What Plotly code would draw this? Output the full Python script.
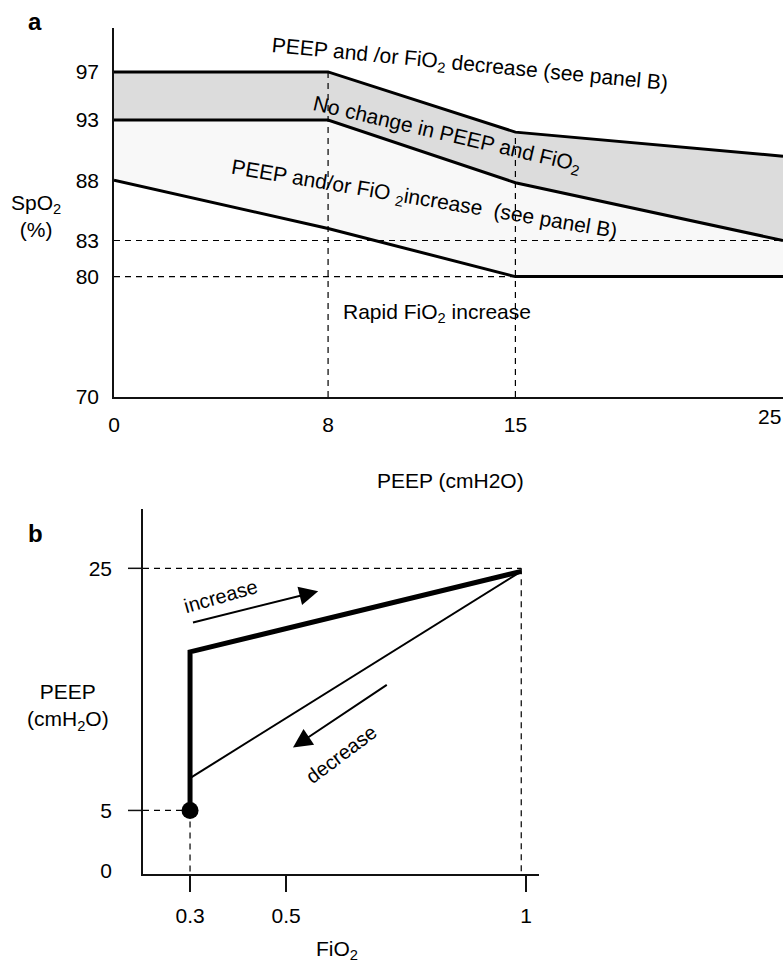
import plotly.graph_objects as go

# ---------------- Data ----------------
# Panel a: SpO2 target bands vs PEEP
peep_a = [0, 8, 15, 25]
spo2_upper = [97, 97, 92, 90]
spo2_middle = [93, 93, 87.8, 83]
spo2_lower = [88, 84, 80, 80]
spo2_ticks = [70, 80, 83, 88, 93, 97]
peep_ticks_a = [0, 8, 15]
peep_last_tick = 25

# Panel b: PEEP / FiO2 pathway
fio2_increase = [0.3, 0.3, 0.99]
peep_increase = [5, 18.1, 24.75]
fio2_decrease = [0.99, 0.3]
peep_decrease = [24.75, 7.67]
start_fio2 = [0.3]
start_peep = [5]
fio2_ticks = [0.3, 0.5, 1]
fio2_ticktext = ["0.3", "0.5", "1"]
peep_ticks_b = [0, 5, 25]

FONT = "Liberation Sans, Arial, Helvetica, sans-serif"
W, H = 784, 963

fig = go.Figure()

# ---- Panel a fills ----
fig.add_trace(go.Scatter(x=peep_a, y=spo2_lower, mode="lines", line=dict(width=0),
                         xaxis="x", yaxis="y", hoverinfo="skip"))
fig.add_trace(go.Scatter(x=peep_a, y=spo2_middle, mode="lines", line=dict(width=0),
                         fill="tonexty", fillcolor="#f8f8f8", xaxis="x", yaxis="y", hoverinfo="skip"))
fig.add_trace(go.Scatter(x=peep_a, y=spo2_upper, mode="lines", line=dict(width=0),
                         fill="tonexty", fillcolor="#dcdcdc", xaxis="x", yaxis="y", hoverinfo="skip"))

# ---- Panel a dashed guides ----
dash_a = dict(color="black", width=1.2, dash="6px,5px")
fig.add_trace(go.Scatter(x=[peep_a[0], peep_a[-1]], y=[spo2_middle[-1]] * 2, mode="lines",
                         line=dash_a, xaxis="x", yaxis="y"))
fig.add_trace(go.Scatter(x=[peep_a[0], peep_a[2]], y=[spo2_lower[2]] * 2, mode="lines",
                         line=dash_a, xaxis="x", yaxis="y"))
fig.add_trace(go.Scatter(x=[peep_a[1]] * 2, y=[spo2_ticks[0], spo2_upper[1]], mode="lines",
                         line=dash_a, xaxis="x", yaxis="y"))
fig.add_trace(go.Scatter(x=[peep_a[2]] * 2, y=[spo2_ticks[0], spo2_upper[2]], mode="lines",
                         line=dash_a, xaxis="x", yaxis="y"))

# ---- Panel a solid lines ----
for ys in (spo2_upper, spo2_middle, spo2_lower):
    fig.add_trace(go.Scatter(x=peep_a, y=ys, mode="lines", line=dict(color="black", width=3),
                             xaxis="x", yaxis="y"))

# ---- Panel b dashed guides ----
dash_b = dict(color="black", width=1.2, dash="6px,5px")
xb_min, xb_max = 0.202, 1.027
yb_min, yb_max = -0.25, 29.9
fig.add_trace(go.Scatter(x=[xb_min, fio2_increase[-1]], y=[peep_ticks_b[2]] * 2, mode="lines",
                         line=dash_b, xaxis="x2", yaxis="y2"))
fig.add_trace(go.Scatter(x=[fio2_increase[-1]] * 2, y=[peep_ticks_b[2], yb_min], mode="lines",
                         line=dash_b, xaxis="x2", yaxis="y2"))
fig.add_trace(go.Scatter(x=[xb_min, start_fio2[0]], y=[start_peep[0]] * 2, mode="lines",
                         line=dash_b, xaxis="x2", yaxis="y2"))
fig.add_trace(go.Scatter(x=[start_fio2[0]] * 2, y=[start_peep[0], yb_min], mode="lines",
                         line=dash_b, xaxis="x2", yaxis="y2"))

# ---- Panel b pathway ----
fig.add_trace(go.Scatter(x=fio2_decrease, y=peep_decrease, mode="lines",
                         line=dict(color="black", width=2), xaxis="x2", yaxis="y2"))
fig.add_trace(go.Scatter(x=fio2_increase, y=peep_increase, mode="lines",
                         line=dict(color="black", width=5), xaxis="x2", yaxis="y2"))
fig.add_trace(go.Scatter(x=start_fio2, y=start_peep, mode="markers",
                         marker=dict(color="black", size=17), xaxis="x2", yaxis="y2"))

tickfont = dict(family=FONT, size=21, color="black")
axis_common = dict(showline=True, linecolor="#111", linewidth=1.5, showgrid=False,
                   zeroline=False, tickfont=tickfont, automargin=False)

fig.update_layout(
    width=W, height=H,
    margin=dict(l=0, r=0, t=0, b=0),
    paper_bgcolor="white", plot_bgcolor="white",
    showlegend=False,
    font=dict(family=FONT, size=21, color="black"),
    xaxis=dict(domain=[114 / W, 783 / W], range=[0, 25], anchor="y",
               tickvals=peep_ticks_a, ticks="", ticklabelstandoff=8, **axis_common),
    yaxis=dict(domain=[1 - 397 / H, 1 - 28 / H], range=[70, 100.65], anchor="x",
               tickvals=spo2_ticks, ticks="", ticklabelstandoff=9, **axis_common),
    xaxis2=dict(domain=[143 / W, 539 / W], range=[xb_min, xb_max], anchor="y2",
                tickvals=fio2_ticks, ticktext=fio2_ticktext, ticks="outside", ticklen=16,
                tickwidth=1.5, tickcolor="#111", ticklabelstandoff=6, **axis_common),
    yaxis2=dict(domain=[1 - 874 / H, 1 - 509 / H], range=[yb_min, yb_max], anchor="x2",
                tickvals=peep_ticks_b, ticks="", ticklabelstandoff=25, **axis_common),
)

# y tick stubs for panel b at 5 and 25
for v in peep_ticks_b[1:]:
    fig.add_shape(type="line", xref="x2 domain", yref="y2", x0=-15 / 396, x1=0, y0=v, y1=v,
                  line=dict(color="#111", width=1.5))

ann_font = dict(family=FONT, size=21, color="black")
annotations = [
    # panel letters
    dict(text="<b>a</b>", x=35 / W, y=1 - 22 / H, xref="paper", yref="paper",
         showarrow=False, font=dict(family=FONT, size=24), xanchor="center", yanchor="middle"),
    dict(text="<b>b</b>", x=35 / W, y=1 - 533 / H, xref="paper", yref="paper",
         showarrow=False, font=dict(family=FONT, size=24), xanchor="center", yanchor="middle"),
    # axis titles
    dict(text="SpO<sub>2</sub><br>(%)", x=36 / W, y=1 - 216 / H, xref="paper", yref="paper",
         showarrow=False, font=ann_font, xanchor="center", yanchor="middle"),
    dict(text="PEEP (cmH2O)", x=450 / W, y=1 - 480 / H, xref="paper", yref="paper",
         showarrow=False, font=ann_font, xanchor="center", yanchor="middle"),
    dict(text="PEEP<br>(cmH<sub>2</sub>O)", x=68 / W, y=1 - 707 / H, xref="paper", yref="paper",
         showarrow=False, font=ann_font, xanchor="center", yanchor="middle"),
    dict(text="FiO<sub>2</sub>", x=337 / W, y=1 - 950 / H, xref="paper", yref="paper",
         showarrow=False, font=ann_font, xanchor="center", yanchor="middle"),
    # last x tick label of panel a (kept inside the page)
    dict(text=str(peep_last_tick), x=1, xref="paper", y=1 - 417 / H, yref="paper",
         showarrow=False, font=tickfont, xanchor="right", yanchor="middle", xshift=-1),
    # panel a region labels
    dict(text="PEEP and /or FiO<sub>2</sub> decrease (see panel B)", x=13.3, y=97.6,
         xref="x", yref="y", showarrow=False, font=ann_font, textangle=5.5,
         xanchor="center", yanchor="middle"),
    dict(text="No change in PEEP and FiO<sub>2</sub>", x=12.44, y=91.8,
         xref="x", yref="y", showarrow=False, font=ann_font, textangle=13.1,
         xanchor="center", yanchor="middle"),
    dict(text="PEEP and/or FiO <sub>2</sub>increase&nbsp; (see panel B)", x=11.62, y=86.4,
         xref="x", yref="y", showarrow=False, font=ann_font, textangle=9.5,
         xanchor="center", yanchor="middle"),
    dict(text="Rapid FiO<sub>2</sub> increase", x=12.07, y=77.0,
         xref="x", yref="y", showarrow=False, font=ann_font,
         xanchor="center", yanchor="middle"),
    # panel b labels & arrows
    dict(text="increase", x=0.365, y=22.7, xref="x2", yref="y2", showarrow=False,
         font=dict(family=FONT, size=20), textangle=-16, xanchor="center", yanchor="middle"),
    dict(text="decrease", x=0.6155, y=9.67, xref="x2", yref="y2", showarrow=False,
         font=dict(family=FONT, size=20), textangle=-37, xanchor="center", yanchor="middle"),
    dict(text="", x=0.567, y=23.1, ax=0.303, ay=20.5, xref="x2", yref="y2",
         axref="x2", ayref="y2", showarrow=True, arrowhead=2, arrowsize=1.9,
         arrowwidth=2, arrowcolor="black", standoff=0),
    dict(text="", x=0.5145, y=10.2, ax=0.713, ay=15.45, xref="x2", yref="y2",
         axref="x2", ayref="y2", showarrow=True, arrowhead=2, arrowsize=1.9,
         arrowwidth=2, arrowcolor="black", standoff=0),
]
fig.update_layout(annotations=annotations)

# remove the default page margin so the 784x963 figure fills the window exactly
fig.write_html("out.html",
               config={"displayModeBar": False},
               post_script="document.body.style.margin='0px';document.body.style.overflow='hidden';")
